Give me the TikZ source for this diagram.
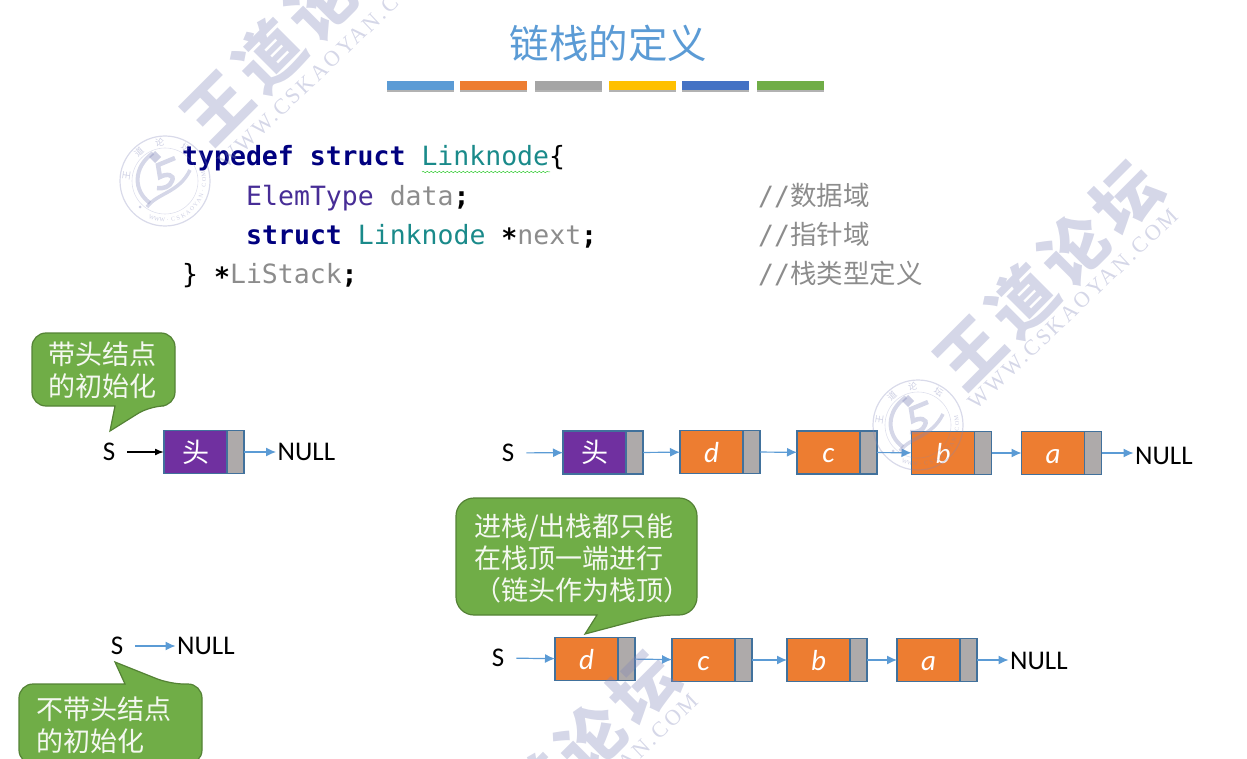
\documentclass[tikz,border=0pt]{standalone}
\usepackage{fontspec}
\setmainfont{Carlito}
\setmonofont{DejaVu Sans Mono}
\newfontfamily\cjk{Noto Sans CJK SC}
\newfontfamily\markcjk[LetterSpace=11]{Noto Sans CJK SC}
\newfontfamily\markserif[LetterSpace=12]{Liberation Serif}
\usetikzlibrary{arrows.meta,positioning,shadows,decorations.pathmorphing}

\definecolor{titleblue}{HTML}{5B9BD5}
\definecolor{barorange}{HTML}{ED7D31}
\definecolor{bargray}{HTML}{A5A5A5}
\definecolor{baryellow}{HTML}{FFC000}
\definecolor{bardeep}{HTML}{4472C4}
\definecolor{bargreen}{HTML}{70AD47}
\definecolor{tipedge}{HTML}{548235}
\definecolor{celledge}{HTML}{41719C}
\definecolor{headpurple}{HTML}{7030A0}
\definecolor{ptrgray}{HTML}{AEAAAA}
\definecolor{kwblue}{HTML}{00007F}
\definecolor{typeteal}{HTML}{1A8A8A}
\definecolor{elempurple}{HTML}{472D96}
\definecolor{varcolor}{HTML}{8C8C8C}
\definecolor{markcolor}{HTML}{8186B8}

\newcommand{\midstar}{\raisebox{-3pt}{\textbf{*}}}

\tikzset{
        databox/.style={draw=celledge,line width=1.2pt,fill=barorange,text=white,minimum width=63pt,minimum height=43pt,inner sep=0pt,outer sep=0pt,text height=20pt,text depth=0pt,font=\fontsize{29}{29}\selectfont\itshape},
        headbox/.style={databox,fill=headpurple,font=\fontsize{27}{27}\selectfont\cjk},
        ptrbox/.style={draw=celledge,line width=1.2pt,fill=ptrgray,minimum width=17pt,minimum height=43pt,inner sep=0pt,outer sep=0pt,right=0pt of #1},
        linkto/.style={draw=titleblue,line width=1.2pt,-{Latex[length=10pt,width=9pt]}},
        headname/.style={inner sep=12pt,font=\fontsize{27}{27}\selectfont},
        nullname/.style={anchor=west,inner sep=1.5pt,font=\fontsize{27}{27}\selectfont},
        tipshape/.style={draw=tipedge,line width=1.2pt,fill=bargreen},
        tiptext/.style={anchor=west,align=left,inner sep=0pt,text=white!92!bargreen,font=\fontsize{27}{32}\selectfont\cjk},
        colorbar/.style={minimum width=67pt,minimum height=9pt,inner sep=0pt,anchor=north west,drop shadow={shadow xshift=0pt,shadow yshift=-2pt,opacity=.3,fill=black}},
        codeline/.style={anchor=base west,inner sep=0pt,font=\fontsize{26.5}{30}\selectfont\ttfamily},
        noteline/.style={codeline,text=varcolor},
        bigmark/.style={text=markcolor,opacity=.33,rotate=45,inner sep=0pt,font=\fontsize{66}{66}\selectfont\markcjk\bfseries},
        urlmark/.style={text=markcolor,opacity=.33,rotate=43.5,inner sep=0pt,font=\fontsize{22}{22}\selectfont\markserif},
        sealmark/.pic={
                \draw[markcolor,opacity=.3,line width=1.2pt] (0,0) circle [radius=45pt];
                \draw[markcolor,opacity=.25,line width=.6pt] (0,0) circle [radius=33pt];
                \foreach \ang/\ch in {172/王,132/道,98/论,58/坛}
                        \node[text=markcolor,opacity=.4,rotate=\ang-90,inner sep=0pt,font=\fontsize{9}{9}\selectfont\cjk] at (\ang:39pt) {\ch};
                \foreach \ch [count=\k] in {W,W,W,.,C,S,K,A,O,Y,A,N,.,C,O,M}
                        \node[text=markcolor,opacity=.4,rotate=242+\k*8+90,inner sep=0pt,font=\fontsize{6}{6}\selectfont\markserif] at (242+\k*8:39pt) {\ch};
                \draw[markcolor,opacity=.33,line width=4pt] (-12,-28) .. controls (-32,-14) and (-32,10) .. (-15,22);
                \draw[markcolor,opacity=.33,line width=4.5pt] (10,-23) -- (-7,-16) -- (-5,-4) .. controls (2,-8) and (10,-6) .. (7,0) .. controls (5,6) and (-2,8) .. (-8,7);
                \draw[markcolor,opacity=.33,line width=3.5pt] (-18,26) .. controls (-8,12) and (14,12) .. (25,-11);
                \fill[markcolor,opacity=.4] (-10,-30) -- (-4,-24) -- (-10,-18) -- (-16,-24) -- cycle;
                \fill[markcolor,opacity=.4] (-25,26) circle [radius=1.5pt];
        }
}

\begin{document}
\begin{tikzpicture}[x=1pt,y=-1pt]
        \useasboundingbox (0,0) rectangle (1247,759);
        \clip (0,0) rectangle (1247,759);

        %title and the colored bars
        \node[text=titleblue,inner sep=0pt,font=\fontsize{39.5}{40}\selectfont\cjk] (title) at (608.5,43) {链栈的定义};
        \node[colorbar,fill=titleblue] (bar1) at (387,81) {};
        \node[colorbar,fill=barorange] (bar2) at (460,81) {};
        \node[colorbar,fill=bargray] (bar3) at (535,81) {};
        \node[colorbar,fill=baryellow] (bar4) at (609,81) {};
        \node[colorbar,fill=bardeep] (bar5) at (682,81) {};
        \node[colorbar,fill=bargreen] (bar6) at (757,81) {};

        %the struct
        \node[codeline] (code1) at (182,166) {\textcolor{kwblue}{\textbf{typedef struct}} \textcolor{typeteal}{Linknode}\{};
        \node[codeline] (code2) at (246,205.5) {\textcolor{elempurple}{ElemType} \textcolor{varcolor}{data}\textbf{;}};
        \node[codeline] (code3) at (246,244.5) {\textcolor{kwblue}{\textbf{struct}} \textcolor{typeteal}{Linknode} \midstar\textcolor{varcolor}{next}\textbf{;}};
        \node[codeline] (code4) at (182,283.5) {\} \midstar\textcolor{varcolor}{LiStack}\textbf{;}};
        \node[noteline] (note1) at (758,205.5) {//{\cjk 数据域}};
        \node[noteline] (note2) at (758,244.5) {//{\cjk 指针域}};
        \node[noteline] (note3) at (758,283.5) {//{\cjk 栈类型定义}};
        \draw[green!60!gray,line width=.5pt,decorate,decoration={snake,amplitude=.7pt,segment length=4pt}] (422,172) -- (550,172);

        %top left list
        \node[headname] (sa) at (109,452) {S};
        \node[headbox] (heada) at (195.5,452) {头};
        \node[ptrbox=heada] (pheada) {};
        \node[nullname] (nulla) at (276,452) {NULL};
        \draw[line width=1.5pt,-{Latex[length=9pt,width=7pt]}] (sa) -- (heada);
        \draw[linkto] (pheada) -- (nulla);

        %top right list
        \node[headname] (sb) at (508,453) {S};
        \node[headbox] (headb) at (594.5,452.5) {头};
        \node[ptrbox=headb] (pheadb) {};
        \node[databox] (db) at (711.5,452) {d};
        \node[ptrbox=db] (pdb) {};
        \node[databox] (cb) at (828.5,452.5) {c};
        \node[ptrbox=cb] (pcb) {};
        \node[databox] (bb) at (943,453) {b};
        \node[ptrbox=bb] (pbb) {};
        \node[databox] (ab) at (1053,453) {a};
        \node[ptrbox=ab] (pab) {};
        \node[nullname] (nullb) at (1133.5,455.5) {NULL};
        \draw[linkto] (sb) -- (headb);
        \draw[linkto] (pheadb) -- (db);
        \draw[linkto] (pdb) -- (cb);
        \draw[linkto] (pcb) -- (bb);
        \draw[linkto] (pbb) -- (ab);
        \draw[linkto] (pab.east) -- (pab.east -| nullb.west);

        %bottom right list
        \node[headname] (sc) at (498,658) {S};
        \node[databox] (dc) at (586.5,659) {d};
        \node[ptrbox=dc] (pdc) {};
        \node[databox] (cc) at (703.5,660) {c};
        \node[ptrbox=cc] (pcc) {};
        \node[databox] (bc) at (818.5,660) {b};
        \node[ptrbox=bc] (pbc) {};
        \node[databox] (ac) at (928.5,660) {a};
        \node[ptrbox=ac] (pac) {};
        \node[nullname] (nullc) at (1008.5,661) {NULL};
        \draw[linkto] (sc) -- (dc);
        \draw[linkto] (pdc) -- (cc);
        \draw[linkto] (pcc) -- (bc);
        \draw[linkto] (pbc) -- (ac);
        \draw[linkto] (pac.east) -- (pac.east -| nullc.west);

        %bottom left list
        \node[headname] (sd) at (117,646) {S};
        \node[nullname] (nulld) at (175.5,646) {NULL};
        \draw[linkto] (sd) -- (nulld);

        %speech bubbles
        \draw[tipshape,rounded corners=14pt] (115,406) -- (32,406) -- (32,333) -- (175,333) -- (175,406) -- (150,406) [sharp corners] -- (110,431) -- cycle;
        \node[tiptext] (tipa) at (48,370) {带头结点\\的初始化};
        \draw[tipshape,rounded corners=18pt] (597,615) -- (456,615) -- (456,498) -- (697,498) -- (697,615) -- (657,615) [sharp corners] -- (585,634) -- cycle;
        \node[tiptext] (tipb) at (474,558) {进栈/出栈都只能\\在栈顶一端进行\\（链头作为栈顶）};
        \draw[tipshape,rounded corners=14pt] (125,684) -- (19,684) -- (19,764) -- (202,764) -- (202,684) -- (170,684) [sharp corners] -- (115,662) -- cycle;
        \node[tiptext] (tipc) at (36,725) {不带头结点\\的初始化};

        %the marks over everything
        \node[bigmark] (marka) at (295,30) {王道论坛};
        \node[urlmark] (urla) at (323,68) {WWW.CSKAOYAN.COM};
        \pic at (165,181) {sealmark};
        \node[bigmark] (markb) at (1048,275) {王道论坛};
        \node[urlmark] (urlb) at (1073,309) {WWW.CSKAOYAN.COM};
        \pic at (918,425) {sealmark};
        \node[bigmark] (markc) at (565,765) {王道论坛};
        \node[urlmark] (urlc) at (593,794) {WWW.CSKAOYAN.COM};
\end{tikzpicture}
\end{document}
